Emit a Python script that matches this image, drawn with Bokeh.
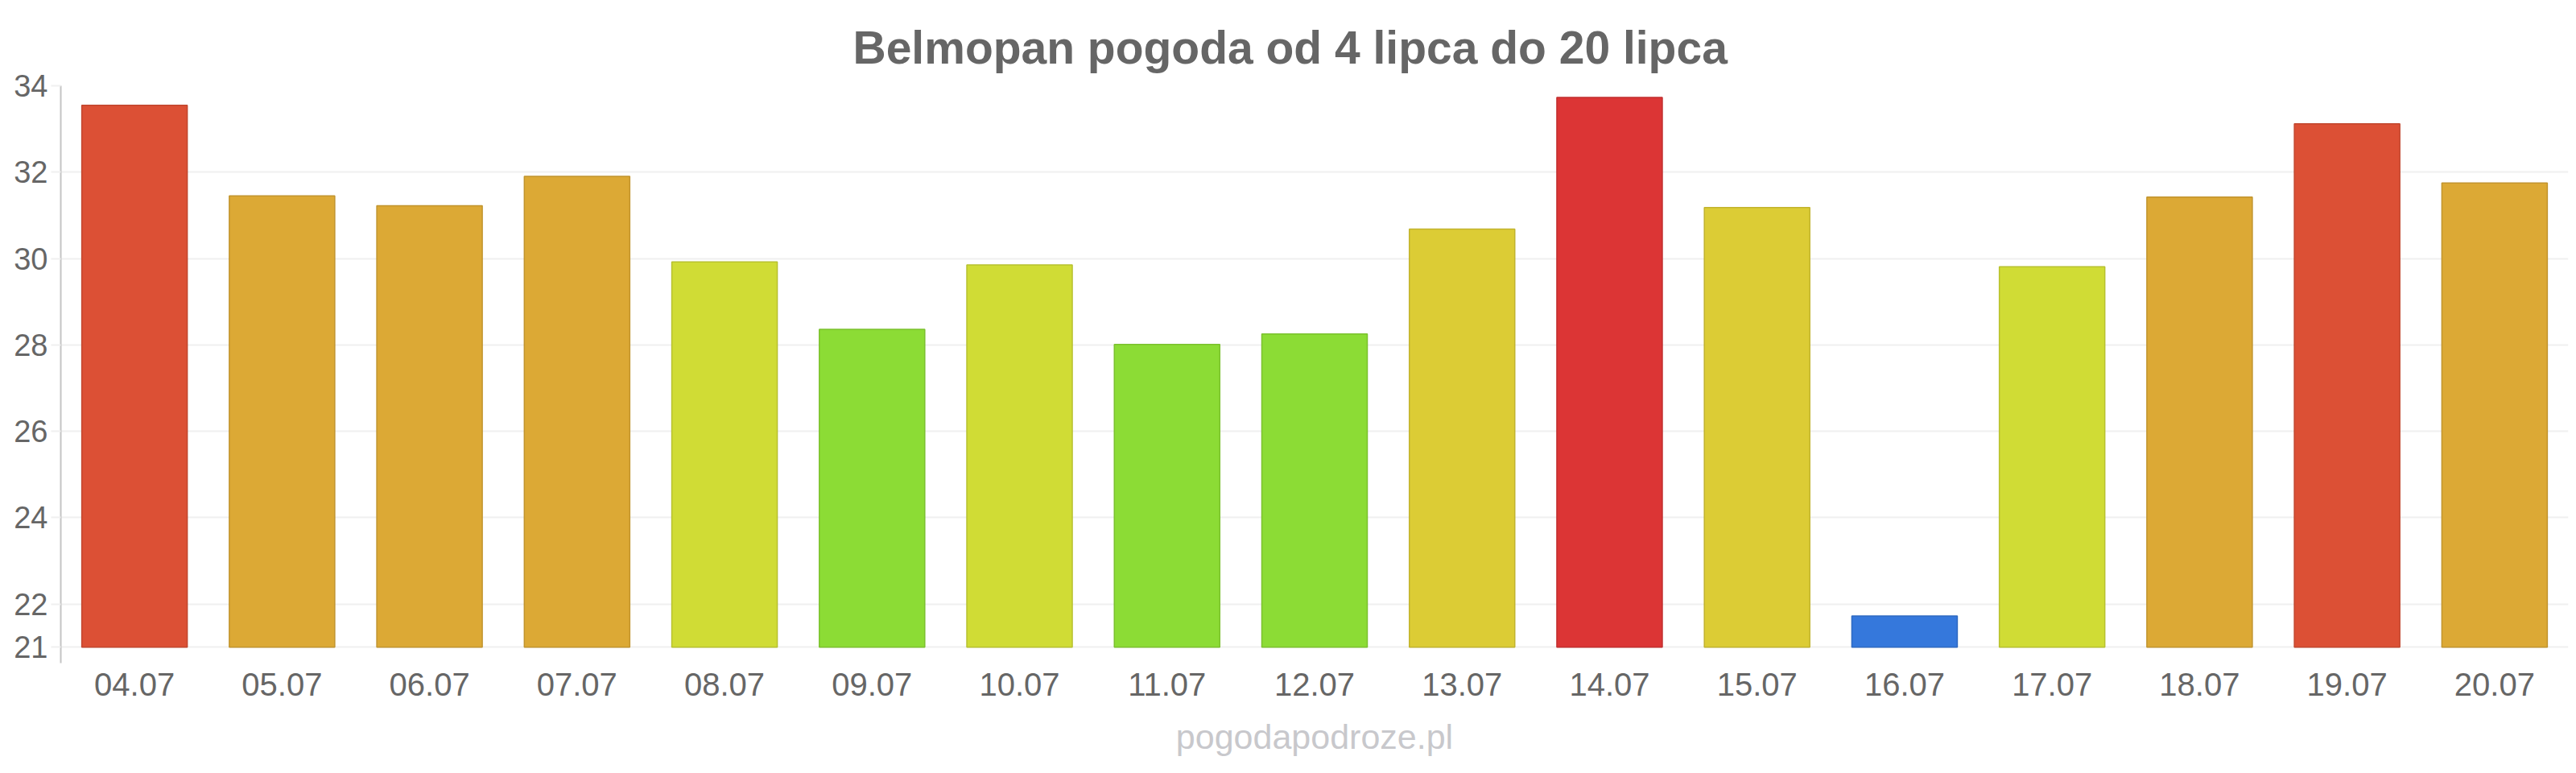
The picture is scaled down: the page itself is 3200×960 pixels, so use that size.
from bokeh.plotting import figure
from bokeh.models import ColumnDataSource, FixedTicker, Range1d, Title
from bokeh.embed import file_html
from bokeh.resources import INLINE

# ---- data ----
dates = ["04.07", "05.07", "06.07", "07.07", "08.07", "09.07", "10.07", "11.07", "12.07",
         "13.07", "14.07", "15.07", "16.07", "17.07", "18.07", "19.07", "20.07"]
temps = [33.55, 31.45, 31.22, 31.9, 29.92, 28.36, 29.85, 28.01, 28.25,
         30.68, 33.73, 31.18, 21.72, 29.81, 31.42, 33.12, 31.75]
y_ticks = [21, 22, 24, 26, 28, 30, 32, 34]
title_text = "Belmopan pogoda od 4 lipca do 20 lipca"
watermark = "pogodapodroze.pl"

# ---- styles ----
fill_colors = ["#dc5035", "#dca935", "#dca935", "#dca935", "#d0dc35", "#8cdc35", "#d0dc35", "#8cdc35", "#8cdc35",
               "#dccc35", "#dc3535", "#dccc35", "#3578dc", "#d0dc35", "#dca935", "#dc5035", "#dca935"]


def darker(hexc, f=0.88):
    r, g, b = int(hexc[1:3], 16), int(hexc[3:5], 16), int(hexc[5:7], 16)
    return "#%02x%02x%02x" % (int(r * f), int(g * f), int(b * f))


line_colors = [darker(c) for c in fill_colors]

W, H = 3200, 960
LEFT, RIGHT, TOP, BOTTOM = 75, 10, 106, 137

p = figure(width=W, height=H, x_range=dates, y_range=Range1d(20.63, 34),
           output_backend="svg", toolbar_location=None,
           min_border_left=LEFT, min_border_right=RIGHT,
           min_border_top=TOP, min_border_bottom=BOTTOM)
p.outline_line_color = None
p.background_fill_color = "white"
p.border_fill_color = "white"

src = ColumnDataSource(dict(x=dates, top=temps, fill=fill_colors, line=line_colors))
p.vbar(x="x", top="top", bottom=21, width=0.715, source=src,
       fill_color="fill", line_color="line", line_width=1.5)

# axes
p.yaxis.ticker = FixedTicker(ticks=y_ticks)
p.yaxis.axis_line_color = "#c4c4c4"
p.yaxis.axis_line_width = 2
p.yaxis.major_tick_line_color = "#f0f0f0"
p.yaxis.major_tick_line_width = 2
p.yaxis.major_tick_out = 12
p.yaxis.major_tick_in = 0
p.yaxis.minor_tick_line_color = None
p.yaxis.major_label_text_font = "Liberation Sans"
p.yaxis.major_label_text_font_size = "38px"
p.yaxis.major_label_text_color = "#666666"
p.yaxis.major_label_standoff = 4

p.xaxis.axis_line_color = None
p.xaxis.major_tick_line_color = None
p.xaxis.minor_tick_line_color = None
p.xaxis.major_label_text_font = "Liberation Sans"
p.xaxis.major_label_text_font_size = "40px"
p.xaxis.major_label_text_color = "#666666"
p.xaxis.major_label_standoff = 6

p.xgrid.grid_line_color = None
p.ygrid.ticker = FixedTicker(ticks=y_ticks)
p.ygrid.grid_line_color = "#f0f0f0"
p.ygrid.grid_line_width = 2

p.title.text = title_text
p.title.align = "left"
p.title.offset = 984
p.title.text_font = "Liberation Sans"
p.title.text_font_style = "bold"
p.title.text_font_size = "57px"
p.title.text_color = "#666666"
p.title.standoff = 32

p.add_layout(Title(text=watermark, align="center", text_font="Liberation Sans",
                   text_font_style="normal", text_font_size="43px", text_color="#c8c8cc",
                   standoff=44), "below")

open("out.html", "w").write(file_html(p, INLINE))
